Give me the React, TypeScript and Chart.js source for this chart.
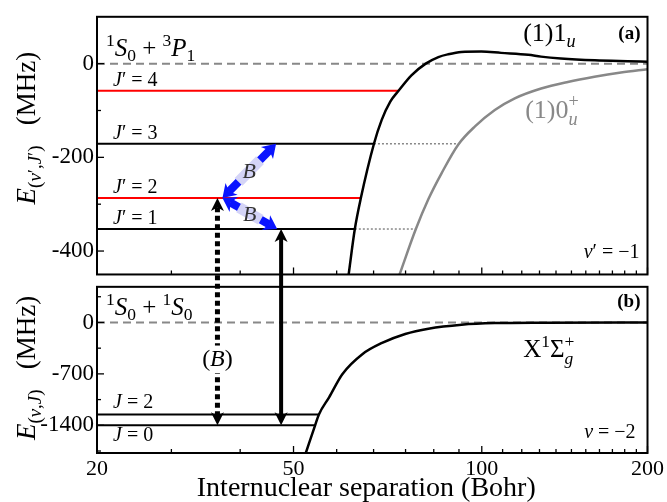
import React, { useEffect, useRef } from "react";
import { Chart, registerables } from "chart.js";

Chart.register(...registerables);

const FONT = '"Liberation Serif", "DejaVu Serif", serif';

// ---- x axis: internuclear separation (Bohr), logarithmic ----
const X_MIN = 20;
const X_MAX = 200;
const X_TICK_MARKS = [27.3, 36.4, 45.5, 54.5, 63.6, 72.7, 81.8, 90.9, 100, 109.1, 118.2, 127.3, 136.4, 145.5, 154.5, 163.6, 172.7, 181.8, 190.9, 200];
const X_TICK_AT = [20, 45.5, 100, 200];
const X_TICK_TEXT = ["20", "50", "100", "200"];

// ---- panel (a) energy axis (MHz) ----
const YA_MIN = -450;
const YA_MAX = 100;
const YA_TICK_MARKS = [-400, -300, -200, -100, 0];
const YA_TICK_LABELS = [-400, -200, 0];

// ---- panel (b) energy axis (MHz) ----
const YB_MIN = -1777;
const YB_MAX = 485;
const YB_TICK_MARKS = [-1750, -1400, -1050, -700, -350, 0, 350];
const YB_TICK_LABELS = [-1400, -700, 0];

// ---- (1)1u potential ----
const R_1U = [57.3, 58.8, 60.3, 63.7, 65.8, 68.2, 70.6, 74.5, 79.1, 83.4, 86.9, 91.8, 99.8, 108.4, 121.4, 128.1, 139.2, 160.4, 184, 200];
const E_1U = [-450, -353, -287, -171, -120, -81, -58, -25, 0, 14, 20, 25, 26, 23, 19, 15, 11, 7, 5, 4];

// ---- (1)0u+ potential ----
const R_0U = [70.9, 75.9, 80.0, 84.6, 90.6, 97.2, 105.6, 114.8, 128.2, 143.3, 160.2, 179, 200];
const E_0U = [-450, -353, -289, -233, -173, -134, -99, -74, -53, -39, -28, -19, -12];

// ---- X1Σg+ potential ----
const R_X = [47.9, 49.8, 50.6, 52.8, 55.8, 60.6, 65.9, 72.6, 80, 91.9, 105.6, 130, 200];
const E_X = [-1777, -1400, -1252, -1019, -704, -435, -279, -157, -85, -31, -9, -3, 0];

// ---- bound levels, panel (a) ----
const LEVEL_A_J = [4, 3, 2, 1];
const LEVEL_A_E = [-58, -171, -287, -353];
const LEVEL_A_R_END = [70.6, 63.7, 60.3, 58.8];
const LEVEL_A_R_DOT = [null, 90.6, null, 75.9];

// ---- bound levels, panel (b) ----
const LEVEL_B_J = [2, 0];
const LEVEL_B_E = [-1252, -1400];
const LEVEL_B_R_END = [50.6, 49.8];

// ---- optical transitions (lower level in b, upper level in a) ----
const TRANS_R = [33.1, 43.2];
const TRANS_E_LOW = [-1400, -1400];
const TRANS_E_UP = [-287, -353];
const TRANS_DOTTED = [true, false];

// ---- magnetic-field couplings in panel (a) ----
const COUPLE_R_FROM = [33.8, 33.8];
const COUPLE_E_FROM = [-287, -287];
const COUPLE_R_TO = [42.3, 42.5];
const COUPLE_E_TO = [-171, -353];

type Seg = { t: string; i?: boolean; p?: "sub" | "sup"; t2?: string; i2?: boolean };

const J_LABEL = (j: number, prime: boolean): Seg[] => [
  { t: "J", i: true },
  { t: (prime ? "′" : "") + " = " + j },
];

type TextLabel = {
  segs: Seg[];
  R: number;
  E: number;
  axis: "yA" | "yB";
  align: "left" | "right" | "center";
  size: number;
  color?: string;
  bold?: boolean;
  bg?: string;
};

const TEXT_LABELS: TextLabel[] = [
  { segs: [{ t: "1", p: "sup" }, { t: "S", i: true }, { t: "0", p: "sub" }, { t: " + " }, { t: "3", p: "sup" }, { t: "P", i: true }, { t: "1", p: "sub" }], R: 20.76, E: 16.9, axis: "yA", align: "left", size: 25 },
  { segs: [{ t: "(1)1" }, { t: "u", i: true, p: "sub" }], R: 118.9, E: 48.7, axis: "yA", align: "left", size: 26 },
  { segs: [{ t: "(a)" }], R: 194.2, E: 52.9, axis: "yA", align: "right", size: 19, bold: true },
  { segs: [{ t: "(1)0" }, { t: "+", t2: "u", i2: true }], R: 119.9, E: -116.4, axis: "yA", align: "left", size: 26, color: "#888888" },
  { segs: [{ t: "v", i: true }, { t: "′ = −1" }], R: 193.4, E: -414.8, axis: "yA", align: "right", size: 20 },
  { segs: [{ t: "1", p: "sup" }, { t: "S", i: true }, { t: "0", p: "sub" }, { t: " + " }, { t: "1", p: "sup" }, { t: "S", i: true }, { t: "0", p: "sub" }], R: 20.76, E: 107.7, axis: "yB", align: "left", size: 25 },
  { segs: [{ t: "(b)" }], R: 194.2, E: 215.4, axis: "yB", align: "right", size: 19, bold: true },
  { segs: [{ t: "X" }, { t: "1", p: "sup" }, { t: "Σ" }, { t: "+", t2: "g", i2: true }], R: 118.9, E: -471, axis: "yB", align: "left", size: 25 },
  { segs: [{ t: "(" }, { t: "B", i: true }, { t: ")" }], R: 33.1, E: -592, axis: "yB", align: "center", size: 24, bg: "#ffffff" },
  { segs: [{ t: "v", i: true }, { t: " = −2" }], R: 190.3, E: -1575, axis: "yB", align: "right", size: 20 },
];

function drawRich(ctx: CanvasRenderingContext2D, segs: Seg[], x: number, y: number, size: number, align: string, color: string, bold = false, bg?: string) {
  const small = size * 0.7;
  const fnt = (it: boolean | undefined, sz: number) => `${it ? "italic " : ""}${bold ? "bold " : ""}${sz}px ${FONT}`;
  const widths = segs.map((s) => {
    const sz = s.p || s.t2 !== undefined ? small : size;
    ctx.font = fnt(s.i, sz);
    let w = ctx.measureText(s.t).width;
    if (s.t2 !== undefined) {
      ctx.font = fnt(s.i2, sz);
      w = Math.max(w, ctx.measureText(s.t2).width);
    }
    return w;
  });
  const total = widths.reduce((a, b) => a + b, 0);
  let cx = align === "left" ? x : align === "right" ? x - total : x - total / 2;
  if (bg) {
    ctx.fillStyle = bg;
    ctx.fillRect(cx - 2, y - size * 0.85, total + 4, size * 1.15);
  }
  ctx.fillStyle = color;
  ctx.textAlign = "left";
  ctx.textBaseline = "alphabetic";
  segs.forEach((s, k) => {
    const sz = s.p || s.t2 !== undefined ? small : size;
    if (s.t2 !== undefined) {
      ctx.font = fnt(s.i, sz);
      ctx.fillText(s.t, cx, y - size * 0.42);
      ctx.font = fnt(s.i2, sz);
      ctx.fillText(s.t2, cx, y + size * 0.28);
    } else {
      ctx.font = fnt(s.i, sz);
      const dy = s.p === "sub" ? size * 0.22 : s.p === "sup" ? -size * 0.4 : 0;
      ctx.fillText(s.t, cx, y + dy);
    }
    cx += widths[k];
  });
}

function drawArrow(ctx: CanvasRenderingContext2D, x1: number, y1: number, x2: number, y2: number, o: { width: number; headLen: number; headW: number; color: string; dash?: number[] }) {
  const dx = x2 - x1;
  const dy = y2 - y1;
  const L = Math.hypot(dx, dy);
  const ux = dx / L;
  const uy = dy / L;
  const nx = -uy;
  const ny = ux;
  ctx.strokeStyle = o.color;
  ctx.lineWidth = o.width;
  ctx.lineCap = "butt";
  ctx.setLineDash(o.dash || []);
  ctx.beginPath();
  ctx.moveTo(x1 + ux * o.headLen * 0.7, y1 + uy * o.headLen * 0.7);
  ctx.lineTo(x2 - ux * o.headLen * 0.7, y2 - uy * o.headLen * 0.7);
  ctx.stroke();
  ctx.setLineDash([]);
  ctx.fillStyle = o.color;
  const head = (tx: number, ty: number, sx: number, sy: number) => {
    const bx = tx - sx * o.headLen;
    const by = ty - sy * o.headLen;
    const mx = tx - sx * o.headLen * 0.72;
    const my = ty - sy * o.headLen * 0.72;
    ctx.beginPath();
    ctx.moveTo(tx, ty);
    ctx.lineTo(bx + nx * o.headW / 2, by + ny * o.headW / 2);
    ctx.lineTo(mx, my);
    ctx.lineTo(bx - nx * o.headW / 2, by - ny * o.headW / 2);
    ctx.closePath();
    ctx.fill();
  };
  head(x2, y2, ux, uy);
  head(x1, y1, -ux, -uy);
}

const decorPlugin = {
  id: "decor",
  afterDatasetsDraw(chart: any) {
    const { ctx, chartArea } = chart;
    const sx = chart.scales.x;
    const sa = chart.scales.yA;
    const sb = chart.scales.yB;
    const left = chartArea.left;
    const right = chartArea.right;
    ctx.save();

    // panel frames
    ctx.strokeStyle = "#000";
    ctx.lineWidth = 2;
    ctx.setLineDash([]);
    for (const s of [sa, sb]) ctx.strokeRect(left, s.top, right - left, s.bottom - s.top);

    // inward tick marks
    ctx.lineWidth = 1.3;
    const seg = (a: number, b: number, c: number, d: number) => {
      ctx.beginPath();
      ctx.moveTo(a, b);
      ctx.lineTo(c, d);
      ctx.stroke();
    };
    for (const s of [sa, sb]) {
      for (const v of X_TICK_MARKS) {
        const px = sx.getPixelForValue(v);
        const len = X_TICK_AT.includes(v) ? 7 : 4;
        seg(px, s.bottom, px, s.bottom - len);
      }
    }
    for (const v of YA_TICK_MARKS) {
      const py = sa.getPixelForValue(v);
      seg(left, py, left + (YA_TICK_LABELS.includes(v) ? 7 : 4), py);
    }
    for (const v of YB_TICK_MARKS) {
      const py = sb.getPixelForValue(v);
      seg(left, py, left + (YB_TICK_LABELS.includes(v) ? 7 : 4), py);
    }

    // vertical optical transitions spanning both panels
    TRANS_R.forEach((r, k) => {
      const px = sx.getPixelForValue(r);
      const yLow = sb.getPixelForValue(TRANS_E_LOW[k]);
      const yUp = sa.getPixelForValue(TRANS_E_UP[k]);
      drawArrow(ctx, px, yLow, px, yUp, {
        width: TRANS_DOTTED[k] ? 5 : 4,
        headLen: 13,
        headW: 13,
        color: "#000",
        dash: TRANS_DOTTED[k] ? [5, 3.5] : [],
      });
    });

    // blue couplings
    COUPLE_R_FROM.forEach((r, k) => {
      const x1 = sx.getPixelForValue(r);
      const y1 = sa.getPixelForValue(COUPLE_E_FROM[k]);
      const x2 = sx.getPixelForValue(COUPLE_R_TO[k]);
      const y2 = sa.getPixelForValue(COUPLE_E_TO[k]);
      drawArrow(ctx, x1, y1, x2, y2, { width: 8, headLen: 13, headW: 17, color: "#0a14ff" });
      const L = Math.hypot(x2 - x1, y2 - y1);
      const ux = (x2 - x1) / L;
      const uy = (y2 - y1) / L;
      const d = L * 0.3;
      ctx.strokeStyle = "#d4d4f7";
      ctx.lineWidth = 11;
      ctx.lineCap = "butt";
      ctx.beginPath();
      ctx.moveTo(x1 + ux * d, y1 + uy * d);
      ctx.lineTo(x2 - ux * d, y2 - uy * d);
      ctx.stroke();
      drawRich(ctx, [{ t: "B", i: true }], (x1 + x2) / 2, (y1 + y2) / 2 + 7, 22, "center", "#333333");
    });

    // level labels
    LEVEL_A_J.forEach((j, k) => {
      drawRich(ctx, J_LABEL(j, true), left + 16, sa.getPixelForValue(LEVEL_A_E[k]) - 5, 20, "left", "#000");
    });
    LEVEL_B_J.forEach((j, k) => {
      const off = k === 0 ? -6 : 16;
      drawRich(ctx, J_LABEL(j, false), left + 16, sb.getPixelForValue(LEVEL_B_E[k]) + off, 20, "left", "#000");
    });

    // annotation labels
    for (const lb of TEXT_LABELS) {
      const s = lb.axis === "yA" ? sa : sb;
      drawRich(ctx, lb.segs, sx.getPixelForValue(lb.R), s.getPixelForValue(lb.E), lb.size, lb.align, lb.color || "#000", !!lb.bold, lb.bg);
    }

    // axis titles
    const titleSegs = (primed: boolean): Seg[] => [
      { t: "E", i: true },
      { t: "(", p: "sub" },
      { t: "v", i: true, p: "sub" },
      { t: primed ? "′," : ",", p: "sub" },
      { t: "J", i: true, p: "sub" },
      { t: primed ? "′)" : ")", p: "sub" },
      { t: "   (MHz)" },
    ];
    ctx.save();
    ctx.translate(35, sa.getPixelForValue(-137.6));
    ctx.rotate(-Math.PI / 2);
    drawRich(ctx, titleSegs(true), 0, 0, 27, "center", "#000");
    ctx.restore();
    ctx.save();
    ctx.translate(35, sb.getPixelForValue(-619));
    ctx.rotate(-Math.PI / 2);
    drawRich(ctx, titleSegs(false), 0, 0, 27, "center", "#000");
    ctx.restore();

    drawRich(ctx, [{ t: "Internuclear separation (Bohr)" }], (left + right) / 2 - 6, chart.height - 6, 28, "center", "#000");

    ctx.restore();
  },
};

function pts(xs: number[], ys: number[]) {
  return xs.map((x, i) => ({ x, y: ys[i] }));
}

function buildDatasets() {
  const ds: any[] = [];
  const curve = (xs: number[], ys: number[], axis: string, color: string) => ({
    data: pts(xs, ys),
    yAxisID: axis,
    borderColor: color,
    borderWidth: 2.5,
    pointRadius: 0,
    cubicInterpolationMode: "monotone",
    order: 1,
  });
  ds.push(curve(R_1U, E_1U, "yA", "#000000"));
  ds.push(curve(R_0U, E_0U, "yA", "#888888"));
  ds.push(curve(R_X, E_X, "yB", "#000000"));

  LEVEL_A_J.forEach((j, k) => {
    ds.push({
      data: [{ x: X_MIN, y: LEVEL_A_E[k] }, { x: LEVEL_A_R_END[k], y: LEVEL_A_E[k] }],
      yAxisID: "yA",
      borderColor: j % 2 === 0 ? "#ff0000" : "#000000",
      borderWidth: 2,
      pointRadius: 0,
      order: 2,
    });
    const dotEnd = LEVEL_A_R_DOT[k];
    if (dotEnd !== null) {
      ds.push({
        data: [{ x: LEVEL_A_R_END[k], y: LEVEL_A_E[k] }, { x: dotEnd, y: LEVEL_A_E[k] }],
        yAxisID: "yA",
        borderColor: "#888888",
        borderWidth: 1.5,
        borderDash: [2, 2],
        pointRadius: 0,
        order: 3,
      });
    }
  });
  LEVEL_B_J.forEach((j, k) => {
    ds.push({
      data: [{ x: X_MIN, y: LEVEL_B_E[k] }, { x: LEVEL_B_R_END[k], y: LEVEL_B_E[k] }],
      yAxisID: "yB",
      borderColor: "#000000",
      borderWidth: 2,
      pointRadius: 0,
      order: 2,
    });
  });
  for (const axis of ["yA", "yB"]) {
    ds.push({
      data: [{ x: X_MIN, y: 0 }, { x: X_MAX, y: 0 }],
      yAxisID: axis,
      borderColor: "#888888",
      borderWidth: 2,
      borderDash: [8, 5],
      pointRadius: 0,
      order: 4,
    });
  }
  return ds;
}

function yScale(min: number, max: number, labels: number[], weight: number, stackWeight: number) {
  return {
    type: "linear",
    position: "left",
    stack: "panels",
    stackWeight,
    weight,
    min,
    max,
    grid: { display: false, drawTicks: false },
    border: { display: false },
    afterBuildTicks: (s: any) => {
      s.ticks = labels.map((v) => ({ value: v }));
    },
    afterFit: (s: any) => {
      s.width = 97;
    },
    ticks: {
      autoSkip: false,
      padding: 3,
      color: "#000",
      font: { family: FONT, size: 23 },
      callback: (v: number) => (labels.includes(v) ? String(v) : ""),
    },
  };
}

export default function App() {
  const ref = useRef<HTMLCanvasElement>(null);
  useEffect(() => {
    if (!ref.current) return;
    const chart = new Chart(ref.current, {
      type: "line",
      data: { datasets: buildDatasets() },
      options: {
        animation: false,
        responsive: true,
        maintainAspectRatio: false,
        layout: { padding: { top: 12, right: 16, left: 0, bottom: 0 } },
        plugins: { legend: { display: false }, tooltip: { enabled: false }, title: { display: false } },
        scales: {
          x: {
            type: "logarithmic",
            position: "bottom",
            min: X_MIN,
            max: X_MAX,
            grid: { display: false, drawTicks: false },
            border: { display: false },
            afterBuildTicks: (s: any) => {
              s.ticks = X_TICK_AT.map((v) => ({ value: v }));
            },
            afterFit: (s: any) => {
              s.height = 49;
            },
            ticks: {
              autoSkip: false,
              maxRotation: 0,
              padding: 3,
              color: "#000",
              font: { family: FONT, size: 22 },
              callback: (v: number) => {
                const i = X_TICK_AT.indexOf(v);
                return i >= 0 ? X_TICK_TEXT[i] : "";
              },
            },
          },
          yA: yScale(YA_MIN, YA_MAX, YA_TICK_LABELS, 3, 260.5),
          yGap: {
            type: "linear",
            position: "left",
            stack: "panels",
            stackWeight: 12.5,
            weight: 2,
            min: 0,
            max: 1,
            grid: { display: false, drawTicks: false },
            border: { display: false },
            ticks: { display: false },
            afterFit: (s: any) => {
              s.width = 97;
            },
          },
          yB: yScale(YB_MIN, YB_MAX, YB_TICK_LABELS, 1, 168),
        },
      } as any,
      plugins: [decorPlugin],
    });
    return () => chart.destroy();
  }, []);
  return (
    <div style={{ position: "fixed", left: 0, top: 0, width: 667, height: 502, background: "#fff" }}>
      <canvas ref={ref} />
    </div>
  );
}
